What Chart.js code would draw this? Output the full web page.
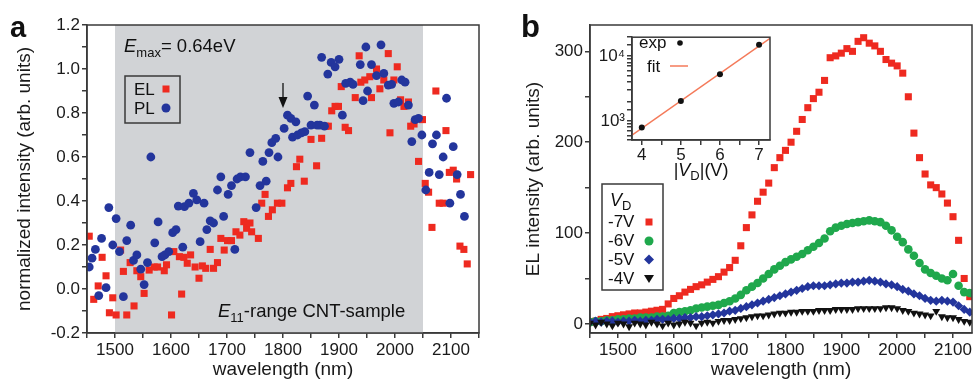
<!DOCTYPE html>
<html>
<head>
<meta charset="utf-8">
<script src="https://cdn.jsdelivr.net/npm/chart.js@4.4.0/dist/chart.umd.min.js"></script>
<style>
  body { margin: 0; background: #fff; }
  #wrap { position: relative; width: 977px; height: 381px; overflow: hidden; background: #fff; }
  canvas { position: absolute; }
</style>
</head>
<body>
<div id="wrap">
  <canvas id="ca" width="490" height="381" style="left:0;top:0"></canvas>
  <canvas id="cb" width="487" height="381" style="left:490px;top:0"></canvas>
  <canvas id="ci" width="200" height="160" style="left:590px;top:25px"></canvas>
</div>
<script>
// ---- panel a: normalized EL / PL spectra ----
const elWl = [1454,1462,1470,1477,1484,1490,1496,1502,1510,1515,1521,1527,1534,1539,1546,1552,1561,1570,1576,1588,1592,1601,1605,1615,1619,1623,1629,1635,1643,1650,1656,1662,1670,1676,1683,1689,1695,1701,1708,1716,1723,1730,1735,1741,1744,1756,1762,1768,1774,1781,1790,1798,1808,1814,1824,1830,1838,1850,1860,1869,1876,1881,1887,1893,1899,1904,1911,1917,1929,1936,1939,1946,1955,1958,1967,1973,1980,1988,1991,1998,2004,2010,2016,2024,2028,2034,2042,2049,2054,2060,2066,2073,2079,2086,2091,2097,2104,2110,2116,2123,2129,2135];
const elVal = [0.24,-0.047,0.014,0.144,0.06,-0.108,-0.04,-0.118,0.177,0.08,-0.118,0.12,-0.077,0.083,0.056,-0.02,0.086,0.10,0.10,0.083,0.11,-0.118,0.17,0.147,-0.023,0.144,0.117,0.155,0.10,0.049,0.105,0.094,0.18,0.094,0.12,0.23,0.177,0.22,0.22,0.26,0.245,0.306,0.276,0.30,0.26,0.23,0.39,0.43,0.33,0.36,0.39,0.39,0.46,0.48,0.556,0.59,0.49,0.68,0.56,0.685,0.74,0.74,0.81,0.83,0.83,0.92,0.735,0.72,0.87,1.06,0.94,0.95,0.965,0.87,1.0,0.91,0.95,1.07,0.71,0.95,1.01,0.86,0.83,0.85,0.74,0.75,0.58,0.77,0.48,0.44,0.28,0.90,0.39,0.39,0.72,0.53,0.54,0.50,0.195,0.18,0.114,0.52];
const plWl = [1454,1459,1465,1471,1476,1484,1489,1496,1502,1508,1515,1521,1528,1533,1539,1546,1552,1558,1564,1571,1577,1584,1589,1596,1603,1609,1613,1621,1624,1632,1640,1646,1652,1659,1664,1670,1676,1683,1689,1694,1702,1708,1714,1718,1724,1733,1741,1752,1759,1764,1770,1775,1780,1787,1791,1802,1808,1814,1817,1823,1826,1833,1839,1844,1850,1856,1861,1866,1869,1874,1880,1886,1893,1900,1906,1912,1920,1925,1938,1943,1948,1951,1958,1967,1975,1980,1988,1994,1998,2006,2012,2018,2024,2030,2036,2042,2048,2055,2061,2067,2074,2079,2086,2092,2098,2104,2111,2117,2124];
const plVal = [0.10,0.14,0.18,-0.03,0.23,0.006,0.37,0.20,0.32,0.17,-0.035,0.22,0.29,0.13,0.155,0.09,0.02,0.12,0.60,0.21,0.305,0.147,0.155,0.17,0.256,0.27,0.377,0.19,0.374,0.39,0.435,0.405,0.215,0.39,0.27,0.31,0.30,0.45,0.51,0.33,0.43,0.47,0.18,0.50,0.51,0.51,0.62,0.37,0.47,0.58,0.49,0.62,0.665,0.685,0.60,0.73,0.79,0.776,0.69,0.76,0.70,0.71,0.715,0.877,0.745,0.836,0.745,0.745,1.053,0.74,0.977,1.03,1.01,1.044,0.79,0.935,0.94,0.93,1.02,0.856,1.10,0.90,1.02,0.97,1.11,0.98,0.927,0.93,0.844,0.85,0.95,0.94,0.836,0.67,0.77,0.776,0.70,0.45,0.53,0.66,0.70,0.52,0.60,0.867,0.39,0.647,0.52,0.43,0.33];
const bandFrom = 1500, bandTo = 2050; // E11 range of the CNT sample
const arrowAt = 1800;

// ---- panel b: EL spectra at different drain voltages ----
const wlB = [1450,1460,1470,1480,1490,1500,1510,1520,1530,1540,
             1550,1560,1570,1580,1590,1600,1610,1620,1630,1640,
             1650,1660,1670,1680,1690,1700,1710,1720,1730,1740,
             1750,1760,1770,1780,1790,1800,1810,1820,1830,1840,
             1850,1860,1870,1880,1890,1900,1910,1920,1930,1940,
             1950,1960,1970,1980,1990,2000,2010,2020,2030,2040,
             2050,2060,2070,2080,2090,2100,2110,2120,2130];
const el7V = [2,3,5,6,8,9,10,11,12,12,
              13,14,15,16,22,28,31,35,38,41,
              43,46,49,52,57,62,70,86,106,120,
              135,145,155,172,183,191,200,212,225,238,
              248,255,268,293,295,298,303,300,311,315,
              309,306,300,291,287,284,276,250,210,183,
              165,153,150,143,133,118,92,50,30];
const el6V = [2,3,3,4,4,5,5,6,6,7,
              7,7,8,8,9,12,13,14,15,17,
              18,19,20,21,23,25,28,32,37,41,
              45,50,55,60,64,68,71,74,77,81,
              85,89,94,102,106,108,110,111,112,113,
              114,113,112,108,103,96,90,82,75,67,
              60,56,53,50,48,55,42,35,34];
const el5V = [2,3,2,3,3,2,3,3,4,3,
              4,4,5,5,5,6,6,7,7,8,
              8,9,10,11,12,14,15,17,19,21,
              23,25,27,29,31,33,35,37,39,41,
              42,42,42,43,44,45,45,46,46,47,
              48,47,46,44,43,41,38,36,33,31,
              28,26,25,26,25,24,20,16,13];
const el4V = [1,-1,2,0,-2,1,0,-3,1,0,
              -1,2,0,-2,1,-1,0,2,1,-2,
              1,2,1,3,4,4,5,6,7,8,
              9,9,10,11,12,12,13,13,14,14,
              14,15,15,15,16,16,16,16,17,17,
              17,17,17,18,18,17,15,14,12,11,
              10,9,14,8,7,7,5,3,2];

// ---- inset: integrated intensity vs |V_D| ----
const vd = [4, 5, 6, 7];
const peakI = [790, 2040, 5250, 15000];
const fitV = [3.75, 7.28];
const fitI = [603, 18800];

const FONT = "'Liberation Sans', Arial, Helvetica, sans-serif";
const AXIS = '#3a3a3a';
Chart.defaults.font.family = FONT;
Chart.defaults.color = '#1a1a1a';

const RED = '#ee2a20', BLUE = '#23359c', GREEN = '#1fa84c', GRAY = '#d1d3d6';

function pts(xs, ys) { return xs.map((x, i) => ({ x: x, y: ys[i] })); }

// draw a line of text made of differently styled pieces
function runs(ctx, x, y, parts) {
  parts.forEach(p => {
    ctx.font = p.font;
    ctx.fillText(p.t, x, y + (p.dy || 0));
    x += ctx.measureText(p.t).width;
  });
  return x;
}

const frame = {
  id: 'frame',
  afterDatasetsDraw(chart) {
    const a = chart.chartArea, c = chart.ctx;
    c.save();
    c.strokeStyle = AXIS;
    c.lineWidth = 1.5;
    c.strokeRect(a.left, a.top, a.right - a.left, a.bottom - a.top);
    c.restore();
  }
};

function axisCommon() {
  return {
    grid: { drawOnChartArea: false, drawTicks: true, tickLength: 5, color: AXIS, lineWidth: 1.5 },
    border: { display: true, color: AXIS, width: 1.5 }
  };
}

// ---------------- panel a ----------------
const annotA = {
  id: 'annotA',
  beforeDatasetsDraw(chart) {
    const { ctx, chartArea: a, scales: { x } } = chart;
    const x0 = x.getPixelForValue(bandFrom), x1 = x.getPixelForValue(bandTo);
    ctx.save();
    ctx.fillStyle = GRAY;
    ctx.fillRect(x0, a.top, x1 - x0, a.bottom - a.top);
    ctx.restore();
  },
  afterDraw(chart) {
    const { ctx, scales: { x } } = chart;
    ctx.save();
    ctx.fillStyle = '#111';
    ctx.textBaseline = 'alphabetic';
    ctx.font = 'bold 29px ' + FONT;
    ctx.fillText('a', 10, 37);

    runs(ctx, 124, 52, [
      { t: 'E', font: 'italic 18.5px ' + FONT },
      { t: 'max', font: '13px ' + FONT, dy: 5 },
      { t: '= 0.64eV', font: '18.5px ' + FONT }
    ]);
    runs(ctx, 218, 317, [
      { t: 'E', font: 'italic 18.5px ' + FONT },
      { t: '11', font: '13px ' + FONT, dy: 5 },
      { t: '-range CNT-sample', font: '18.5px ' + FONT }
    ]);

    // legend box
    ctx.strokeStyle = AXIS;
    ctx.lineWidth = 1.5;
    ctx.strokeRect(125, 76, 55, 47);
    ctx.font = '17px ' + FONT;
    ctx.fillText('EL', 134, 95);
    ctx.fillText('PL', 134, 114);
    ctx.fillStyle = RED;
    ctx.fillRect(162.5, 85.5, 7, 7);
    ctx.fillStyle = BLUE;
    ctx.beginPath();
    ctx.arc(166, 108, 4.5, 0, Math.PI * 2);
    ctx.fill();

    // arrow marking 1800 nm
    const ax = x.getPixelForValue(arrowAt);
    ctx.strokeStyle = '#111';
    ctx.fillStyle = '#111';
    ctx.lineWidth = 1.3;
    ctx.beginPath();
    ctx.moveTo(ax, 83);
    ctx.lineTo(ax, 100);
    ctx.stroke();
    ctx.beginPath();
    ctx.moveTo(ax - 4.5, 97);
    ctx.lineTo(ax + 4.5, 97);
    ctx.lineTo(ax, 108);
    ctx.closePath();
    ctx.fill();
    ctx.restore();
  }
};

new Chart(document.getElementById('ca'), {
  type: 'scatter',
  data: {
    datasets: [
      { label: 'PL', data: pts(plWl, plVal), pointStyle: 'circle', pointRadius: 4.4, backgroundColor: BLUE, borderWidth: 0, order: 1 },
      { label: 'EL', data: pts(elWl, elVal), pointStyle: 'rect', pointRadius: 5, backgroundColor: RED, borderWidth: 0, order: 2 }
    ]
  },
  options: {
    responsive: false,
    devicePixelRatio: 1,
    animation: false,
    events: [],
    layout: { padding: { top: 25, right: 11, left: 0, bottom: 0 } },
    plugins: { legend: { display: false }, tooltip: { enabled: false } },
    scales: {
      x: Object.assign(axisCommon(), {
        type: 'linear', min: 1450, max: 2150,
        afterFit: s => { s.height = 48; },
        ticks: {
          stepSize: 50, autoSkip: false, padding: 2, maxRotation: 0, font: { size: 17 },
          callback: v => (Math.round(v) % 100 === 0 && v >= 1500 && v <= 2100) ? String(Math.round(v)) : ''
        },
        title: { display: true, text: 'wavelength (nm)', font: { size: 19 }, padding: { top: 0, bottom: 0 } }
      }),
      y: Object.assign(axisCommon(), {
        type: 'linear', min: -0.2, max: 1.2,
        afterFit: s => { s.width = 87; },
        ticks: {
          stepSize: 0.1, autoSkip: false, padding: 2, font: { size: 17 },
          callback: v => (Math.abs(Math.round(v * 10)) % 2 === 0) ? (Math.round(v * 10) / 10).toFixed(1) : ''
        },
        title: { display: true, text: 'normalized intensity (arb. units)', font: { size: 19 }, padding: { top: 13, bottom: 0 } }
      })
    }
  },
  plugins: [annotA, frame]
});

// ---------------- panel b ----------------
const annotB = {
  id: 'annotB',
  afterDraw(chart) {
    const ctx = chart.ctx;
    ctx.save();
    ctx.fillStyle = '#111';
    ctx.textBaseline = 'alphabetic';
    ctx.font = 'bold 31px ' + FONT;
    ctx.fillText('b', 31, 37);

    ctx.strokeStyle = AXIS;
    ctx.lineWidth = 1.5;
    ctx.strokeRect(112, 184, 61, 106);
    runs(ctx, 120, 206, [
      { t: 'V', font: 'italic 18px ' + FONT },
      { t: 'D', font: '13px ' + FONT, dy: 4 }
    ]);
    ctx.font = '17px ' + FONT;
    const rows = [['-7V', 227], ['-6V', 246], ['-5V', 265], ['-4V', 284]];
    rows.forEach(r => ctx.fillText(r[0], 118, r[1]));
    const mx = 159;
    ctx.fillStyle = RED;
    ctx.fillRect(mx - 3.5, 218.5, 7, 7);
    ctx.fillStyle = GREEN;
    ctx.beginPath(); ctx.arc(mx, 241, 4.5, 0, Math.PI * 2); ctx.fill();
    ctx.fillStyle = BLUE;
    ctx.beginPath(); ctx.moveTo(mx, 254.5); ctx.lineTo(mx + 5, 259.5); ctx.lineTo(mx, 264.5); ctx.lineTo(mx - 5, 259.5); ctx.closePath(); ctx.fill();
    ctx.fillStyle = '#111';
    ctx.beginPath(); ctx.moveTo(mx - 5, 275); ctx.lineTo(mx + 5, 275); ctx.lineTo(mx, 283); ctx.closePath(); ctx.fill();
    ctx.restore();
  }
};

new Chart(document.getElementById('cb'), {
  type: 'scatter',
  data: {
    datasets: [
      { label: '-7V', data: pts(wlB, el7V), pointStyle: 'rect', pointRadius: 5, backgroundColor: RED, borderWidth: 0, order: 4 },
      { label: '-6V', data: pts(wlB, el6V), pointStyle: 'circle', pointRadius: 4.3, backgroundColor: GREEN, borderWidth: 0, order: 3 },
      { label: '-5V', data: pts(wlB, el5V), pointStyle: 'rectRot', pointRadius: 4.6, backgroundColor: BLUE, borderWidth: 0, order: 2 },
      { label: '-4V', data: pts(wlB, el4V), pointStyle: 'triangle', rotation: 180, pointRadius: 4.6, backgroundColor: '#111', borderWidth: 0, order: 1 }
    ]
  },
  options: {
    responsive: false,
    devicePixelRatio: 1,
    animation: false,
    events: [],
    layout: { padding: { top: 25, right: 2, left: 0, bottom: 0 } },
    plugins: { legend: { display: false }, tooltip: { enabled: false } },
    scales: {
      x: Object.assign(axisCommon(), {
        type: 'linear', min: 1450, max: 2134,
        afterFit: s => { s.height = 48; },
        ticks: {
          stepSize: 50, autoSkip: false, padding: 2, maxRotation: 0, includeBounds: false, font: { size: 17 },
          callback: v => (Math.round(v) % 100 === 0) ? String(Math.round(v)) : ''
        },
        title: { display: true, text: 'wavelength (nm)', font: { size: 19 }, padding: { top: 0, bottom: 0 } }
      }),
      y: Object.assign(axisCommon(), {
        type: 'linear', min: -10, max: 329,
        afterFit: s => { s.width = 100; },
        ticks: {
          stepSize: 50, autoSkip: false, padding: 2, includeBounds: false, font: { size: 17 },
          callback: v => (Math.round(v) % 100 === 0) ? String(Math.round(v)) : ''
        },
        title: { display: true, text: 'EL intensity (arb. units)', font: { size: 19 }, padding: { top: 32, bottom: 0 } }
      })
    }
  },
  plugins: [annotB, frame]
});

// ---------------- inset ----------------
const SUP = { 2: '\u00b2', 3: '\u00b3', 4: '\u2074', 5: '\u2075' };
const annotI = {
  id: 'annotI',
  beforeDraw(chart) {
    const { ctx, chartArea: a } = chart;
    ctx.save();
    ctx.fillStyle = '#fff';
    ctx.fillRect(a.left, a.top, a.right - a.left, a.bottom - a.top);
    ctx.restore();
  },
  afterDraw(chart) {
    const { ctx, chartArea: a } = chart;
    ctx.save();
    ctx.fillStyle = '#111';
    ctx.textBaseline = 'alphabetic';
    ctx.font = '17px ' + FONT;
    ctx.fillText('exp', 49, 23);
    ctx.fillText('fit', 57, 47);
    ctx.beginPath(); ctx.arc(90, 18, 2.8, 0, Math.PI * 2); ctx.fill();
    ctx.strokeStyle = '#f47a5a';
    ctx.lineWidth = 1.5;
    ctx.beginPath(); ctx.moveTo(80, 41); ctx.lineTo(98, 41); ctx.stroke();

    const parts = [
      { t: '|', font: '18px ' + FONT },
      { t: 'V', font: 'italic 18px ' + FONT },
      { t: 'D', font: '13px ' + FONT, dy: 4 },
      { t: '|(V)', font: '18px ' + FONT }
    ];
    let w = 0;
    parts.forEach(p => { ctx.font = p.font; w += ctx.measureText(p.t).width; });
    runs(ctx, (a.left + a.right) / 2 - w / 2, 151, parts);
    ctx.restore();
  }
};

new Chart(document.getElementById('ci'), {
  type: 'scatter',
  data: {
    datasets: [
      { label: 'fit', data: pts(fitV, fitI), showLine: true, borderColor: '#f47a5a', borderWidth: 1.5, pointRadius: 0, order: 2 },
      { label: 'exp', data: pts(vd, peakI), pointRadius: 3, backgroundColor: '#111', borderWidth: 0, order: 1 }
    ]
  },
  options: {
    responsive: false,
    devicePixelRatio: 1,
    animation: false,
    events: [],
    layout: { padding: { top: 7, right: 20, left: 0, bottom: 0 } },
    plugins: { legend: { display: false }, tooltip: { enabled: false } },
    scales: {
      x: Object.assign(axisCommon(), {
        type: 'linear', min: 3.75, max: 7.28,
        afterFit: s => { s.height = 45; },
        ticks: {
          stepSize: 0.5, autoSkip: false, padding: 0, maxRotation: 0, includeBounds: false, font: { size: 17 },
          callback: v => Number.isInteger(v) ? String(v) : ''
        }
      }),
      y: Object.assign(axisCommon(), {
        type: 'logarithmic', min: 508, max: 19600,
        afterFit: s => { s.width = 42; },
        ticks: {
          autoSkip: false, padding: 2, font: { size: 17 },
          callback: v => {
            const e = Math.log10(v);
            return Math.abs(e - Math.round(e)) < 1e-6 ? '10' + SUP[Math.round(e)] : '';
          }
        }
      })
    }
  },
  plugins: [annotI, frame]
});
</script>
</body>
</html>
